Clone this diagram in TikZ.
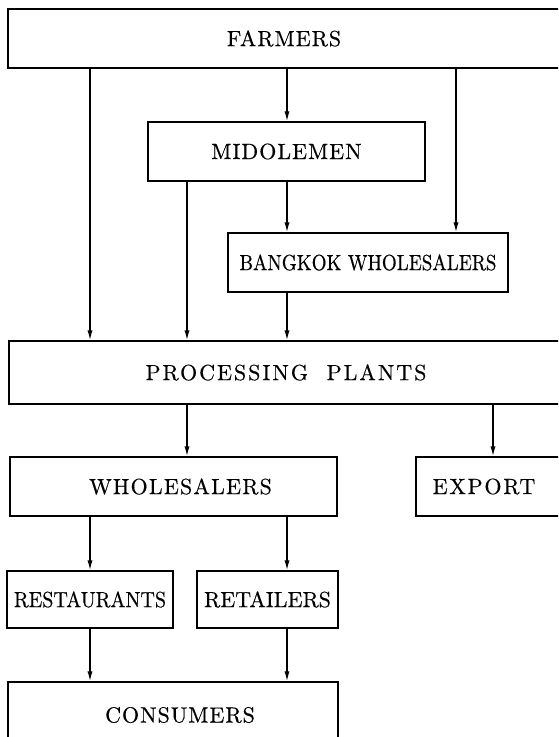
\documentclass[tikz,border=0pt]{standalone}
\usepackage{fontspec}
\setmainfont{lmroman10-regular}[Extension=.otf, BoldFont=lmroman10-bold]
\usetikzlibrary{positioning,arrows.meta}
\newcommand{\squeeze}[2][0.87]{\scalebox{#1}[1]{#2}}

\begin{document}
\begin{tikzpicture}[x=0.5pt, y=-0.5pt, line width=0.7pt,
  box/.style={draw, inner sep=0pt, minimum height=29.5pt},
  spaced/.style={font=\fontsize{11}{13}\selectfont\addfontfeature{LetterSpace=#1,FakeBold=0.4}},
  tight/.style={font=\fontsize{11}{13}\selectfont\addfontfeature{FakeBold=0.4}},
  flow/.style={-{Latex[length=5pt,width=2.6pt]}}]

\clip (0,0) rectangle (558,737);

\def\xa{90}
\def\xb{187}
\def\xc{287}
\def\xd{456}
\def\xe{493}

\coordinate (ca) at (\xa, 0);
\coordinate (cb) at (\xb, 0);
\coordinate (cc) at (\xc, 0);
\coordinate (cd) at (\xd, 0);
\coordinate (ce) at (\xe, 0);

\node[box, spaced=4.5, minimum width=276pt] (farmers) at (284, 38.5) {FARMERS};
\node[box, spaced=4.5, minimum width=138.5pt] (midolemen) at (286.5, 151.5) {MIDOLEMEN};
\node[box, tight, minimum width=140pt] (bangkok) at (368, 262.5) {\squeeze{BANGKOK WHOLESALERS}};
\node[box, spaced=9, minimum width=277pt, minimum height=31.5pt]
  (processing) at (286, 372.5) {PROCESSING\ \ PLANTS};
\node[box, spaced=5.4, minimum width=163.5pt] (wholesalers) at (173.5, 486.5) {\hspace*{7pt}WHOLESALERS};
\node[box, spaced=8, minimum width=77pt] (export) at (493, 486.5) {EXPORT\hspace*{9pt}};
\node[box, tight, minimum width=83pt, minimum height=28.5pt] (restaurants) at (90, 599.5) {\squeeze[0.91]{RESTAURANTS}};
\node[box, spaced=0, minimum width=70.5pt, minimum height=28.5pt]
  (retailers) at (267.5, 599.5) {RETAILERS};
\node[box, spaced=4.5, minimum width=165pt, minimum height=33pt]
  (consumers) at (173, 715) {\hspace*{7pt}CONSUMERS};

% farmers down
\draw[flow] (farmers.south -| ca) -- (processing.north -| ca);
\draw[flow] (farmers.south -| cc) -- (midolemen.north -| cc);
\draw[flow] (farmers.south -| cd) -- (bangkok.north -| cd);

% middlemen and bangkok
\draw[flow] (midolemen.south -| cb) -- (processing.north -| cb);
\draw[flow] (midolemen.south -| cc) -- (bangkok.north -| cc);
\draw[flow] (bangkok.south -| cc) -- (processing.north -| cc);

% plants down
\draw[flow] (processing.south -| cb) -- (wholesalers.north -| cb);
\draw[flow] (processing.south -| ce) -- (export.north -| ce);

\draw[flow] (wholesalers.south -| ca) -- (restaurants.north -| ca);
\draw[flow] (wholesalers.south -| cc) -- (retailers.north -| cc);
\draw[flow] (restaurants.south -| ca) -- (consumers.north -| ca);
\draw[flow] (retailers.south -| cc) -- (consumers.north -| cc);

\end{tikzpicture}
\end{document}
